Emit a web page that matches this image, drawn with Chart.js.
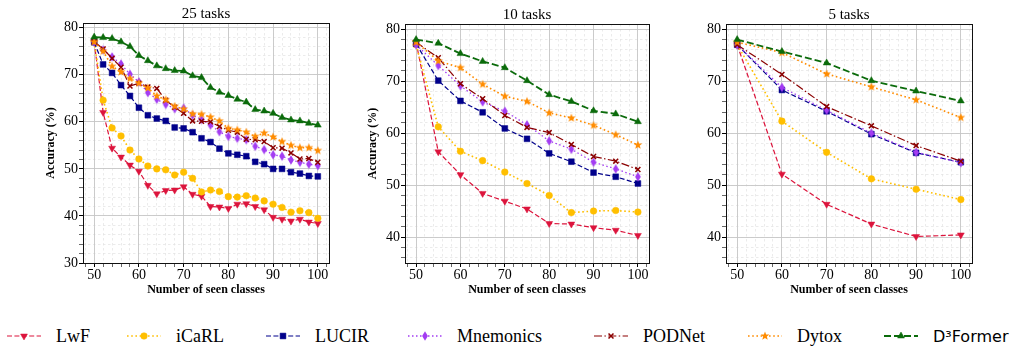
<!DOCTYPE html>
<html>
<head>
<meta charset="utf-8">
<script src="https://cdn.jsdelivr.net/npm/chart.js@4.4.0/dist/chart.umd.min.js"></script>
<style>
  body { margin: 0; background: #fff; width: 1014px; height: 348px; overflow: hidden; position: relative; }
  canvas.panel { position: absolute; top: 0; }
  .item { position: absolute; top: 323px; height: 26px; display: flex; align-items: center; color: #000; white-space: nowrap; }
  .item canvas { margin-right: 15px; }
  .item span { font-family: "Liberation Serif", serif; font-size: 18px; }
  .item span.sans { font-family: "DejaVu Sans", sans-serif; font-size: 16px; }
</style>
</head>
<body>
<canvas id="c25" class="panel" width="340" height="310" style="left:0px"></canvas>
<canvas id="c10" class="panel" width="330" height="310" style="left:345px"></canvas>
<canvas id="c5" class="panel" width="334" height="310" style="left:680px"></canvas>
<div id="legend"></div>
<script>
// x positions (number of seen classes)
const x25 = [50, 52, 54, 56, 58, 60, 62, 64, 66, 68, 70, 72, 74, 76, 78, 80, 82, 84, 86, 88, 90, 92, 94, 96, 98, 100];
const x10 = [50, 55, 60, 65, 70, 75, 80, 85, 90, 95, 100];
const x5 = [50, 60, 70, 80, 90, 100];
const xTicks = [50, 60, 70, 80, 90, 100];
const yTicks25 = [30, 40, 50, 60, 70, 80];
const yTicks = [40, 50, 60, 70, 80];

const methods = ['LwF', 'iCaRL', 'LUCIR', 'Mnemonics', 'PODNet', 'Dytox', 'D³Former'];

// 25 tasks
const lwf25 = [77.0, 62.0, 54.4, 52.5, 50.8, 49.5, 46.5, 44.7, 45.4, 45.5, 46.2, 44.6, 44.2, 42.0, 41.9, 41.6, 42.5, 42.6, 42.0, 41.3, 39.7, 39.3, 38.9, 39.3, 38.7, 38.4];
const icarl25 = [77.0, 64.6, 58.7, 57.0, 54.0, 52.1, 50.6, 50.0, 49.8, 48.7, 49.3, 48.0, 45.1, 45.5, 45.2, 44.1, 44.0, 44.3, 43.8, 43.2, 42.5, 41.8, 40.8, 41.1, 40.7, 39.5];
const lucir25 = [76.9, 72.2, 70.4, 67.8, 65.5, 63.0, 61.4, 60.7, 60.2, 58.8, 58.6, 57.8, 56.5, 55.7, 54.3, 53.3, 53.0, 52.7, 51.5, 51.0, 50.0, 50.0, 49.3, 49.0, 48.5, 48.4];
const mnem25 = [77.0, 75.3, 73.8, 72.3, 70.1, 68.5, 66.2, 64.8, 63.7, 62.8, 62.9, 61.4, 60.5, 59.3, 57.9, 56.9, 56.5, 56.2, 54.8, 54.1, 53.0, 52.7, 51.9, 51.4, 51.0, 50.7];
const pod25 = [77.0, 75.5, 73.5, 71.6, 67.6, 68.2, 67.4, 67.1, 64.6, 63.1, 61.8, 60.2, 60.1, 60.0, 59.0, 58.2, 57.8, 56.3, 56.2, 55.8, 54.5, 54.4, 53.4, 52.1, 52.2, 51.4];
const dytox25 = [77.0, 75.0, 71.8, 70.6, 69.2, 68.2, 67.2, 65.5, 64.7, 63.3, 62.7, 61.7, 61.6, 61.0, 60.2, 58.6, 58.3, 57.8, 56.9, 57.6, 56.8, 55.8, 55.0, 54.5, 54.5, 53.9];
const d3f25 = [78.0, 77.9, 77.7, 77.0, 76.0, 74.1, 73.0, 71.9, 71.3, 70.9, 70.8, 69.8, 69.4, 67.3, 66.3, 65.6, 64.8, 64.2, 62.6, 62.3, 61.8, 60.9, 60.4, 60.2, 59.7, 59.3];

// 10 tasks
const lwf10 = [77.5, 56.4, 52.0, 48.4, 46.9, 45.4, 42.6, 42.5, 41.8, 41.3, 40.3];
const icarl10 = [77.0, 61.2, 56.5, 54.7, 52.5, 50.3, 48.0, 44.7, 45.0, 45.1, 44.8];
const lucir10 = [77.2, 70.1, 66.2, 64.0, 60.9, 58.9, 56.1, 54.5, 52.4, 51.6, 50.3];
const mnem10 = [77.0, 73.0, 69.1, 66.0, 64.2, 61.6, 58.5, 56.9, 54.4, 53.1, 51.6];
const pod10 = [77.5, 74.5, 69.5, 66.6, 63.4, 61.1, 60.1, 57.8, 55.5, 54.6, 53.0];
const dytox10 = [77.5, 73.9, 72.6, 69.4, 67.1, 66.1, 63.9, 62.9, 61.5, 59.7, 57.7];
const d3f10 = [78.0, 77.3, 75.3, 73.8, 72.6, 70.1, 67.4, 66.1, 64.3, 63.7, 62.2];

// 5 tasks
const lwf5 = [77.0, 52.1, 46.3, 42.5, 40.1, 40.4];
const icarl5 = [77.0, 62.3, 56.3, 51.2, 49.2, 47.2];
const lucir5 = [77.0, 68.3, 64.2, 59.8, 56.2, 54.4];
const mnem5 = [77.0, 68.8, 64.4, 60.0, 56.3, 54.3];
const pod5 = [77.0, 71.3, 65.1, 61.4, 57.6, 54.6];
const dytox5 = [77.5, 75.5, 71.4, 68.9, 66.4, 63.0];
const d3f5 = [78.0, 75.7, 73.5, 70.1, 68.1, 66.2];

const colors = ['#dc143c', '#ffbf00', '#00008b', '#a33cf2', '#8b0000', '#ff8c00', '#0b6b0b'];
const dashes = [[5, 2.4], [1.6, 2.6], [5, 2.4], [1.5, 2.5], [8, 2.4, 1.5, 2.4], [1.6, 2.6], [7, 3]];
const widths = [1.2, 1.6, 1.2, 1.3, 1.2, 1.6, 1.8];

// DejaVu Serif falls back to a sans face here, so the Times-like Liberation Serif stands in
const serif = "'Liberation Serif', serif";

function starCanvas(color, r) {
  const c = document.createElement('canvas');
  const s = Math.ceil(r * 2 + 2);
  c.width = c.height = s;
  const g = c.getContext('2d');
  g.fillStyle = color;
  g.beginPath();
  for (let k = 0; k < 10; k++) {
    const rad = k % 2 ? r * 0.42 : r;
    const a = -Math.PI / 2 + k * Math.PI / 5;
    g.lineTo(s / 2 + rad * Math.cos(a), s / 2 + rad * Math.sin(a));
  }
  g.closePath();
  g.fill();
  return c;
}
function thinDiamond(color, r) {
  const c = document.createElement('canvas');
  const s = Math.ceil(r * 2 + 2);
  c.width = c.height = s;
  const g = c.getContext('2d');
  g.fillStyle = color;
  g.beginPath();
  g.moveTo(s / 2, s / 2 - r);
  g.lineTo(s / 2 + r * 0.6, s / 2);
  g.lineTo(s / 2, s / 2 + r);
  g.lineTo(s / 2 - r * 0.6, s / 2);
  g.closePath();
  g.fill();
  return c;
}

const markers = [
  { pointStyle: 'triangle', rotation: 180, radius: 4 },
  { pointStyle: 'circle', rotation: 0, radius: 3.3 },
  { pointStyle: 'rect', rotation: 0, radius: 4.1 },
  { pointStyle: thinDiamond(colors[3], 4.8), rotation: 0, radius: 4 },
  { pointStyle: 'crossRot', rotation: 0, radius: 3.5 },
  { pointStyle: starCanvas(colors[5], 4.6), rotation: 0, radius: 4 },
  { pointStyle: 'triangle', rotation: 0, radius: 4 },
];

function minorTicks(min, max) {
  const out = [];
  for (let v = Math.ceil(min / 2) * 2; v <= max; v += 2) out.push({ value: v });
  return out;
}

const framePlugin = {
  id: 'frame',
  afterDatasetsDraw(chart) {
    const { ctx, chartArea: a } = chart;
    ctx.save();
    ctx.strokeStyle = '#111';
    ctx.lineWidth = 1;
    ctx.strokeRect(Math.round(a.left) + 0.5, Math.round(a.top) + 0.5, Math.round(a.right - a.left), Math.round(a.bottom - a.top));
    ctx.restore();
  },
};

Chart.defaults.font.family = serif;
Chart.defaults.color = '#000';

function makePanel(id, title, xs, series, majorY, yMin, yMax, lay) {
  const xMin = 47.5, xMax = 102.5;
  const isMajorX = (v) => xTicks.includes(v);
  const isMajorY = (v) => majorY.includes(v);
  const datasets = series.map((ys, i) => ({
    label: methods[i],
    data: ys.map((y, j) => ({ x: xs[j], y: y })),
    borderColor: colors[i],
    backgroundColor: colors[i],
    borderWidth: widths[i],
    borderDash: dashes[i],
    pointStyle: markers[i].pointStyle,
    pointRotation: markers[i].rotation,
    pointRadius: markers[i].radius,
    pointBorderColor: colors[i],
    pointBackgroundColor: colors[i],
    pointBorderWidth: i === 4 ? 1.5 : 0.5,
    tension: 0,
    fill: false,
    order: 6 - i,
  }));
  return new Chart(document.getElementById(id), {
    type: 'line',
    data: { datasets },
    plugins: [framePlugin],
    options: {
      responsive: false,
      animation: false,
      events: [],
      layout: { padding: { left: lay.padL, right: lay.padR, top: 0, bottom: 0 } },
      plugins: {
        legend: { display: false },
        tooltip: { enabled: false },
        title: {
          display: true, text: title, fullSize: false,
          font: { family: serif, size: 15, weight: 'normal' },
          padding: { top: lay.titleTop, bottom: 0 },
        },
      },
      scales: {
        xm: {
          type: 'linear', position: 'bottom', min: xMin, max: xMax,
          afterBuildTicks: (a) => { a.ticks = minorTicks(xMin, xMax); },
          ticks: { display: false },
          grid: { color: '#e2e2e2', lineWidth: 0.7, drawTicks: false },
          border: { display: false, dash: [2.5, 2.5] },
          afterFit: (s) => { s.height = 0; },
        },
        ym: {
          type: 'linear', position: 'left', min: yMin, max: yMax,
          afterBuildTicks: (a) => { a.ticks = minorTicks(yMin, yMax); },
          ticks: { display: false },
          grid: { color: '#e2e2e2', lineWidth: 0.7, drawTicks: false },
          border: { display: false, dash: [2.5, 2.5] },
          afterFit: (s) => { s.width = 0; },
        },
        x: {
          type: 'linear', position: 'bottom', min: xMin, max: xMax,
          afterBuildTicks: (a) => { a.ticks = minorTicks(xMin, xMax); },
          ticks: {
            autoSkip: false, maxRotation: 0, padding: 0,
            font: { family: serif, size: 14 },
            callback: (v) => (isMajorX(v) ? String(v) : ''),
          },
          grid: {
            color: (c) => (c.tick && isMajorX(c.tick.value) ? '#c6c6c6' : 'rgba(0,0,0,0)'),
            lineWidth: 0.9,
            tickColor: '#000',
            tickLength: 4,
            tickWidth: (c) => (c.tick && isMajorX(c.tick.value) ? 1 : 0.6),
          },
          border: { display: false },
          title: {
            display: true, text: 'Number of seen classes',
            font: { family: serif, size: 12, weight: 'bold' },
            padding: { top: 0, bottom: 13 },
          },
          afterFit: (s) => { s.height = 47; },
        },
        y: {
          type: 'linear', position: 'left', min: yMin, max: yMax,
          afterBuildTicks: (a) => { a.ticks = minorTicks(yMin, yMax); },
          ticks: {
            autoSkip: false, padding: 1,
            font: { family: serif, size: 14 },
            callback: (v) => (isMajorY(v) ? String(v) : ''),
          },
          grid: {
            color: (c) => (c.tick && isMajorY(c.tick.value) ? '#c6c6c6' : 'rgba(0,0,0,0)'),
            lineWidth: 0.9,
            tickColor: '#000',
            tickLength: 4,
            tickWidth: (c) => (c.tick && isMajorY(c.tick.value) ? 1 : 0.6),
          },
          border: { display: false },
          title: {
            display: lay.yTitle, text: 'Accuracy (%)',
            font: { family: serif, size: 12, weight: 'bold' },
            padding: { top: 4, bottom: 0 },
          },
          afterFit: (s) => { s.width = lay.yW; },
        },
      },
    },
  });
}

makePanel('c25', '25 tasks', x25, [lwf25, icarl25, lucir25, mnem25, pod25, dytox25, d3f25], yTicks25, 30, 81,
  { padL: 40, yW: 43, padR: 11, titleTop: 5, yTitle: true });
makePanel('c10', '10 tasks', x10, [lwf10, icarl10, lucir10, mnem10, pod10, dytox10, d3f10], yTicks, 35, 81,
  { padL: 17, yW: 43, padR: 26, titleTop: 6, yTitle: true });
makePanel('c5', '5 tasks', x5, [lwf5, icarl5, lucir5, mnem5, pod5, dytox5, d3f5], yTicks, 35, 81,
  { padL: 0, yW: 46, padR: 42, titleTop: 6, yTitle: false });

// legend (handles: line + marker)
const legendLeft = [7, 127, 266, 408, 594, 748, 884];
const legend = document.getElementById('legend');
methods.forEach((name, i) => {
  const item = document.createElement('div');
  item.className = 'item';
  item.style.left = legendLeft[i] + 'px';
  const c = document.createElement('canvas');
  c.width = 34; c.height = 16;
  const g = c.getContext('2d');
  g.strokeStyle = colors[i];
  g.lineWidth = widths[i];
  g.setLineDash(dashes[i]);
  g.beginPath(); g.moveTo(0, 8); g.lineTo(34, 8); g.stroke();
  g.setLineDash([]);
  g.fillStyle = colors[i];
  g.lineWidth = i === 4 ? 1.5 : 0.5;
  Chart.helpers.drawPoint(g, { pointStyle: markers[i].pointStyle, rotation: markers[i].rotation, radius: markers[i].radius, borderWidth: g.lineWidth }, 17, 8);
  item.appendChild(c);
  const t = document.createElement('span');
  t.textContent = name;
  if (i === 6) t.className = 'sans';
  item.appendChild(t);
  legend.appendChild(item);
});
</script>
</body>
</html>
